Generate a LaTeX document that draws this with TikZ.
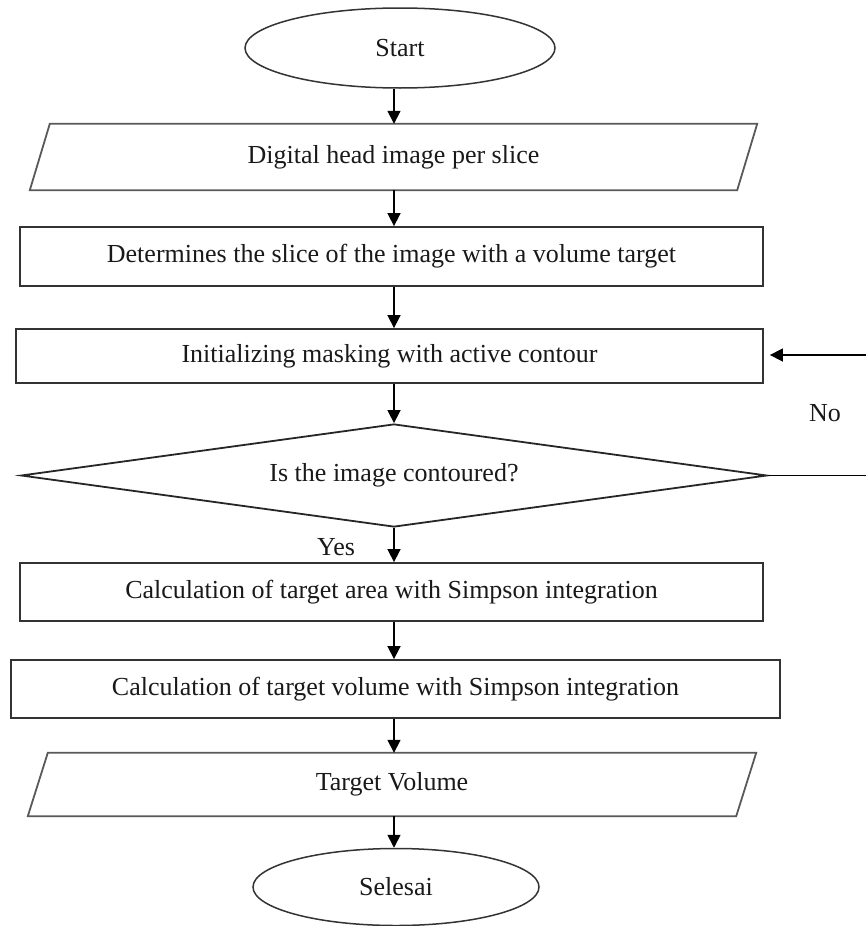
\documentclass[tikz,border=0pt]{standalone}
\usepackage{fontspec}
\setmainfont{Liberation Serif}
\usetikzlibrary{arrows.meta,shapes.geometric}
\begin{document}
\begin{tikzpicture}[x=1pt,y=-1pt,
  every node/.style={font=\fontsize{26}{30}\selectfont, text=black!90},
  procbox/.style={draw=black!80, line width=1.8pt, rectangle, inner sep=0pt},
  iobox/.style={inner sep=0pt},
  iolinestyle/.style={draw=black!65, line width=1.8pt, line join=miter},
  termbox/.style={draw=black!80, line width=1.5pt, ellipse, inner sep=0pt},
  decbox/.style={draw=black!85, line width=1.8pt, diamond, aspect=7.2, inner sep=0pt},
  conn/.style={draw=black, line width=1.6pt},
  arr/.style={conn, -{Triangle[length=13pt,width=13pt]}},
  lbl/.style={inner sep=0pt}
]
\useasboundingbox (0,0) rectangle (865,926);
\coordinate (col) at (394,0);

\node[termbox, minimum width=310, minimum height=80] (start) at (400,48) {Start};

\node[iobox, minimum width=707, minimum height=66] (para1) at (393.5,157) {Digital head image per slice};
\draw[iolinestyle] ([xshift=10pt]para1.north west) -- ([xshift=10pt]para1.north east)
  -- ([xshift=-10pt]para1.south east) -- ([xshift=-10pt]para1.south west) -- cycle;

\node[procbox, minimum width=743, minimum height=59] (rect1) at (391.5,256.5) {Determines the slice of the image with a volume target};

\node[procbox, minimum width=747, minimum height=54] (rect2) at (389.5,356) {Initializing masking with active contour};

\node[decbox, minimum width=746, minimum height=103] (dec) at (394,475.5) {Is the image contoured?};

\node[procbox, minimum width=743, minimum height=58] (rect3) at (391.5,592) {Calculation of target area with Simpson integration};

\node[procbox, minimum width=769, minimum height=58] (rect4) at (395.5,689) {Calculation of target volume with Simpson integration};

\node[iobox, minimum width=708, minimum height=63] (para2) at (392,784.5) {Target Volume};
\draw[iolinestyle] ([xshift=10pt]para2.north west) -- ([xshift=10pt]para2.north east)
  -- ([xshift=-10pt]para2.south east) -- ([xshift=-10pt]para2.south west) -- cycle;

\node[termbox, minimum width=286, minimum height=77] (stop) at (396,887) {Selesai};

% main flow
\draw[arr] (start.south -| col) -- (para1.north -| col);
\draw[arr] (para1.south -| col) -- (rect1.north -| col);
\draw[arr] (rect1.south -| col) -- (rect2.north -| col);
\draw[arr] (rect2.south -| col) -- (dec.north);
\draw[arr] (dec.south) -- (rect3.north -| col);
\draw[arr] (rect3.south -| col) -- (rect4.north -| col);
\draw[arr] (rect4.south -| col) -- (para2.north -| col);
\draw[arr] (para2.south -| col) -- (stop.north -| col);

% feedback loop
\coordinate (fb1) at (872,475.5);
\coordinate (fb2) at (872,355);
\draw[conn] (dec.east) -- (fb1) -- (fb2);
\draw[arr] (fb2) -- ([xshift=6pt]rect2.east |- fb2);

\node[lbl] (no) at (825,413) {No};
\node[lbl] (yes) at (336,547) {Yes};
\end{tikzpicture}
\end{document}
